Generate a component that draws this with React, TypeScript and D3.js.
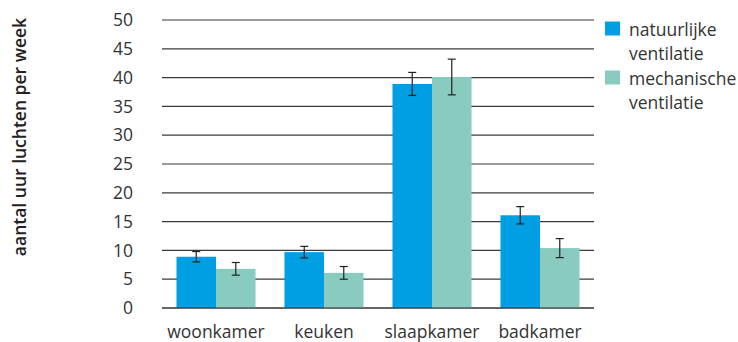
import React from "react";
import * as d3 from "d3";

const categories = ["woonkamer", "keuken", "slaapkamer", "badkamer"];
const seriesNames = ["natuurlijke ventilatie", "mechanische ventilatie"];
const legendLines = [["natuurlijke", "ventilatie"], ["mechanische", "ventilatie"]];
const natuurlijke = [8.9, 9.7, 38.9, 16.1];
const natuurlijkeErr = [0.9, 1.0, 2.0, 1.5];
const mechanische = [6.8, 6.1, 40.1, 10.4];
const mechanischeErr = [1.1, 1.1, 3.1, 1.65];
const yTicks = [0, 5, 10, 15, 20, 25, 30, 35, 40, 45, 50];
const colors = ["#009fe3", "#89cbbf"];

const W = 738, H = 342;
const FONT = "'Open Sans', 'Noto Sans', sans-serif";

export default function App() {
  const left = 162, right = 594, top = 20, bottom = 308;
  const x0 = d3.scaleBand<string>().domain(categories).range([left, right]).paddingInner(0.268).paddingOuter(0.134);
  const x1 = d3.scaleBand<string>().domain(seriesNames).range([0, x0.bandwidth()]);
  const y = d3.scaleLinear().domain([0, 50]).range([bottom, top]);
  const data = [
    { vals: natuurlijke, errs: natuurlijkeErr },
    { vals: mechanische, errs: mechanischeErr },
  ];
  return (
    <svg width={W} height={H} style={{ position: "absolute", left: 0, top: 0 }}>
      <rect width={W} height={H} fill="#fff" />
      {yTicks.map((t) => (
        <g key={t}>
          <line x1={left} x2={right} y1={y(t)} y2={y(t)} stroke="#3a3a3a" strokeWidth={1.2} />
          <text x={133} y={y(t)} dy="0.35em" textAnchor="end" fontFamily={FONT} fontSize={17.5} fill="#333">{t}</text>
        </g>
      ))}
      {categories.map((c, i) => (
        <g key={c}>
          {data.map((s, j) => {
            const bx = (x0(c) as number) + (x1(seriesNames[j]) as number);
            const bw = x1.bandwidth();
            const cx = bx + bw / 2;
            const v = s.vals[i], e = s.errs[i];
            return (
              <g key={j}>
                <rect x={bx} y={y(v)} width={bw} height={y(0) - y(v)} fill={colors[j]} />
                <line x1={cx} x2={cx} y1={y(v + e)} y2={y(v - e)} stroke="#222" strokeWidth={1.2} />
                <line x1={cx - 4} x2={cx + 4} y1={y(v + e)} y2={y(v + e)} stroke="#222" strokeWidth={1.2} />
                <line x1={cx - 4} x2={cx + 4} y1={y(v - e)} y2={y(v - e)} stroke="#222" strokeWidth={1.2} />
              </g>
            );
          })}
          <text x={(x0(c) as number) + x0.bandwidth() / 2} y={337.5} textAnchor="middle" fontFamily={FONT} fontSize={17.5} fill="#333">{c}</text>
        </g>
      ))}
      <line x1={left} x2={right} y1={y(0)} y2={y(0)} stroke="#333" strokeWidth={1.2} />
      {legendLines.map((lines, j) => (
        <g key={j}>
          <rect x={605} y={21.5 + j * 49} width={15} height={14} fill={colors[j]} />
          {lines.map((l, k) => (
            <text key={k} x={629} y={30 + j * 49 + k * 24} dy="0.35em" fontFamily={FONT} fontSize={17.5} fill="#333">{l}</text>
          ))}
        </g>
      ))}
      <text transform={`translate(20,137) rotate(-90)`} textAnchor="middle" dy="0.35em" fontFamily={FONT} fontSize={17.5} fontWeight={600} fill="#222">aantal uur luchten per week</text>
    </svg>
  );
}
